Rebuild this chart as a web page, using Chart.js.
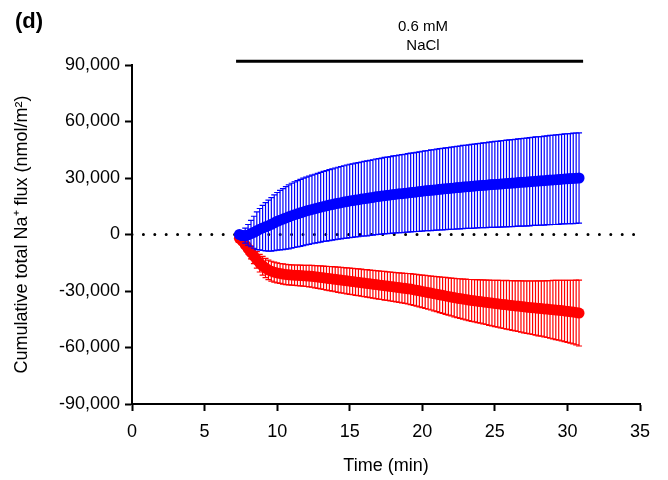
<!DOCTYPE html>
<html lang="en">
<head>
  <meta charset="UTF-8">
  <title>Cumulative total Na+ flux</title>
  <script src="https://cdn.jsdelivr.net/npm/chart.js"></script>
  <style>
    html, body { margin: 0; padding: 0; background: #fff; }
  </style>
</head>
<body>
  <canvas id="fluxChart" width="668" height="480"></canvas>

  <script>
    // sampling times (min), one every 0.2 min
    const times = [
      7.4, 7.6, 7.8, 8.0, 8.2, 8.4, 8.6, 8.8, 9.0, 9.2,
      9.4, 9.6, 9.8, 10.0, 10.2, 10.4, 10.6, 10.8, 11.0, 11.2,
      11.4, 11.6, 11.8, 12.0, 12.2, 12.4, 12.6, 12.8, 13.0, 13.2,
      13.4, 13.6, 13.8, 14.0, 14.2, 14.4, 14.6, 14.8, 15.0, 15.2,
      15.4, 15.6, 15.8, 16.0, 16.2, 16.4, 16.6, 16.8, 17.0, 17.2,
      17.4, 17.6, 17.8, 18.0, 18.2, 18.4, 18.6, 18.8, 19.0, 19.2,
      19.4, 19.6, 19.8, 20.0, 20.2, 20.4, 20.6, 20.8, 21.0, 21.2,
      21.4, 21.6, 21.8, 22.0, 22.2, 22.4, 22.6, 22.8, 23.0, 23.2,
      23.4, 23.6, 23.8, 24.0, 24.2, 24.4, 24.6, 24.8, 25.0, 25.2,
      25.4, 25.6, 25.8, 26.0, 26.2, 26.4, 26.6, 26.8, 27.0, 27.2,
      27.4, 27.6, 27.8, 28.0, 28.2, 28.4, 28.6, 28.8, 29.0, 29.2,
      29.4, 29.6, 29.8, 30.0, 30.2, 30.4, 30.6, 30.8
    ];

    // blue group: mean and SEM (nmol/m2)
    const blueMean = [
      0, -500, -600, -200, 500, 1200, 2000, 2800, 3500, 4100,
      4700, 5400, 6200, 7000, 7600, 8200, 8800, 9400, 10000, 10500,
      11000, 11500, 12000, 12500, 12900, 13300, 13700, 14100, 14500, 14900,
      15200, 15600, 15900, 16300, 16600, 16900, 17200, 17500, 17800, 18000,
      18300, 18500, 18800, 19000, 19200, 19500, 19700, 20000, 20200, 20400,
      20600, 20800, 21000, 21200, 21400, 21600, 21700, 21900, 22100, 22300,
      22400, 22600, 22800, 23000, 23200, 23300, 23500, 23600, 23800, 24000,
      24100, 24300, 24400, 24600, 24700, 24900, 25000, 25200, 25300, 25400,
      25600, 25700, 25900, 26000, 26100, 26200, 26400, 26500, 26600, 26700,
      26800, 27000, 27100, 27200, 27300, 27400, 27600, 27700, 27800, 27900,
      28000, 28200, 28300, 28400, 28500, 28600, 28800, 28900, 29000, 29100,
      29200, 29400, 29500, 29600, 29700, 29800, 29900, 30000
    ];
    const blueErr = [
      1000, 2500, 4000, 5500, 7000, 8500, 10000, 11000, 12000, 12800,
      13500, 14200, 14800, 15300, 15800, 16200, 16600, 17000, 17200, 17400,
      17600, 17800, 17900, 18000, 18100, 18200, 18300, 18400, 18500, 18600,
      18700, 18800, 18900, 19000, 19100, 19200, 19300, 19400, 19500, 19500,
      19600, 19700, 19700, 19800, 19900, 19900, 20000, 20100, 20100, 20200,
      20300, 20300, 20400, 20500, 20500, 20600, 20700, 20700, 20800, 20900,
      20900, 21000, 21100, 21200, 21200, 21300, 21400, 21400, 21500, 21600,
      21600, 21700, 21700, 21800, 21900, 21900, 22000, 22100, 22100, 22200,
      22300, 22300, 22400, 22400, 22500, 22600, 22600, 22700, 22800, 22800,
      22900, 22900, 23000, 23000, 23100, 23100, 23200, 23200, 23300, 23300,
      23400, 23400, 23500, 23500, 23500, 23600, 23600, 23700, 23700, 23800,
      23800, 23800, 23900, 23900, 23900, 24000, 24000, 24000
    ];

    // red group: mean and SEM (nmol/m2)
    const redMean = [
      -2000, -3500, -5500, -7500, -9500, -11500, -13500, -15200, -16600, -17800,
      -18800, -19500, -20000, -20400, -20700, -21000, -21200, -21400, -21500, -21600,
      -21700, -21800, -21900, -22000, -22100, -22200, -22400, -22600, -22800, -23000,
      -23200, -23400, -23600, -23800, -24000, -24200, -24400, -24600, -24800, -25000,
      -25200, -25400, -25600, -25800, -26000, -26200, -26400, -26600, -26800, -27000,
      -27200, -27400, -27600, -27800, -28000, -28200, -28400, -28600, -28800, -29000,
      -29300, -29600, -29900, -30200, -30500, -30800, -31100, -31400, -31700, -32000,
      -32300, -32600, -32900, -33200, -33500, -33800, -34000, -34300, -34500, -34800,
      -35000, -35200, -35400, -35600, -35800, -36000, -36200, -36400, -36600, -36800,
      -37000, -37200, -37300, -37500, -37700, -37900, -38000, -38200, -38400, -38600,
      -38700, -38900, -39000, -39200, -39300, -39500, -39600, -39800, -39900, -40100,
      -40200, -40400, -40600, -40800, -41000, -41200, -41400, -41700
    ];
    const redErr = [
      1000, 1500, 2000, 2800, 3400, 4000, 4400, 4700, 5000, 5100,
      5200, 5300, 5300, 5300, 5300, 5400, 5400, 5400, 5400, 5400,
      5500, 5500, 5500, 5600, 5700, 5800, 5900, 6000, 6100, 6200,
      6300, 6400, 6500, 6600, 6700, 6800, 6800, 6900, 7000, 7000,
      7100, 7100, 7200, 7200, 7300, 7300, 7400, 7400, 7500, 7500,
      7600, 7600, 7700, 7700, 7800, 7800, 7900, 8000, 8100, 8200,
      8300, 8400, 8500, 8600, 8800, 8900, 9000, 9200, 9300, 9500,
      9600, 9800, 9900, 10000, 10200, 10300, 10500, 10600, 10800, 10900,
      11100, 11200, 11400, 11500, 11700, 11800, 12000, 12100, 12300, 12400,
      12600, 12700, 12900, 13000, 13200, 13300, 13500, 13600, 13800, 13900,
      14100, 14200, 14400, 14600, 14700, 14900, 15100, 15300, 15500, 15700,
      15900, 16100, 16300, 16500, 16700, 16900, 17200, 17500
    ];

    const xTicks = [0, 5, 10, 15, 20, 25, 30, 35];
    const yTicks = [-90000, -60000, -30000, 0, 30000, 60000, 90000];

    // NaCl application period
    const naclStart = 7.17;
    const naclEnd = 31.08;
    const naclBarY = 92000;
    const naclLabel = ["0.6 mM", "NaCl"];

    const FONT = "'Liberation Sans', Arial, sans-serif";

    const toPoints = (means) => means.map((v, i) => ({ x: times[i], y: v }));

    // draws the SEM bars of a dataset just before its points
    const errorBars = {
      id: 'errorBars',
      beforeDatasetDraw(chart, args) {
        const ds = chart.data.datasets[args.index];
        if (!ds.errors) return;
        const { ctx, scales: { x, y } } = chart;
        ctx.save();
        ctx.strokeStyle = ds.backgroundColor;
        ctx.lineWidth = 1.2;
        ds.data.forEach((p, i) => {
          const px = x.getPixelForValue(p.x);
          const top = y.getPixelForValue(p.y + ds.errors[i]);
          const bot = y.getPixelForValue(p.y - ds.errors[i]);
          ctx.beginPath();
          ctx.moveTo(px, top); ctx.lineTo(px, bot);
          ctx.moveTo(px - 3, top); ctx.lineTo(px + 3, top);
          ctx.moveTo(px - 3, bot); ctx.lineTo(px + 3, bot);
          ctx.stroke();
        });
        ctx.restore();
      }
    };

    // panel letter, NaCl bar and its label
    const annotations = {
      id: 'annotations',
      afterDraw(chart) {
        const { ctx, scales: { x, y } } = chart;
        ctx.save();
        ctx.fillStyle = '#000';
        ctx.font = "bold 22px " + FONT;
        ctx.textAlign = 'left';
        ctx.textBaseline = 'middle';
        ctx.fillText("(d)", 15, 22);

        const x0 = x.getPixelForValue(naclStart);
        const x1 = x.getPixelForValue(naclEnd);
        const yb = y.getPixelForValue(naclBarY);
        ctx.strokeStyle = '#000';
        ctx.lineWidth = 3;
        ctx.beginPath();
        ctx.moveTo(x0, yb); ctx.lineTo(x1, yb);
        ctx.stroke();

        ctx.font = "15px " + FONT;
        ctx.textAlign = 'center';
        const xc = x.getPixelForValue(20.05);
        ctx.fillText(naclLabel[0], xc, 27);
        ctx.fillText(naclLabel[1], xc, 46);
        ctx.restore();
      }
    };

    const ctx = document.getElementById("fluxChart").getContext("2d");
    const fluxChart = new Chart(ctx, {
      type: 'scatter',
      data: {
        datasets: [
          {
            label: "blue", data: toPoints(blueMean), errors: blueErr,
            backgroundColor: "#0000ff", borderWidth: 0, pointRadius: 5.5, order: 1
          },
          {
            label: "red", data: toPoints(redMean), errors: redErr,
            backgroundColor: "#ff0000", borderWidth: 0, pointRadius: 5.5, order: 2
          },
          {
            type: 'line', label: "zero", data: [{ x: 0, y: 0 }, { x: 35, y: 0 }],
            borderColor: "#000", borderWidth: 3, borderDash: [0, 11.4],
            borderCapStyle: 'round', pointRadius: 0, order: 3
          }
        ]
      },
      options: {
        responsive: false,
        animation: false,
        devicePixelRatio: 1,
        layout: { padding: { top: 65, right: 28, left: 0, bottom: 0 } },
        plugins: { legend: { display: false }, tooltip: { enabled: false } },
        scales: {
          x: {
            type: 'linear', min: 0, max: 35,
            afterFit: (s) => { s.height = 76; },
            afterBuildTicks: (s) => { s.ticks = xTicks.map(v => ({ value: v })); },
            border: { display: true, color: '#000', width: 2 },
            grid: { drawOnChartArea: false, drawTicks: true, tickLength: 7, tickColor: '#000', tickWidth: 2 },
            ticks: { color: '#000', font: { family: FONT, size: 18 }, padding: 10, maxRotation: 0, autoSkip: false },
            title: { display: true, text: "Time (min)", color: '#000', font: { family: FONT, size: 18 }, padding: { top: 2, bottom: 3 } }
          },
          y: {
            min: -90000, max: 90000,
            afterFit: (s) => { s.width = 132; },
            afterBuildTicks: (s) => { s.ticks = yTicks.map(v => ({ value: v })); },
            border: { display: true, color: '#000', width: 2 },
            grid: { drawOnChartArea: false, drawTicks: true, tickLength: 7, tickColor: '#000', tickWidth: 2 },
            ticks: {
              color: '#000', font: { family: FONT, size: 18 }, padding: 5, autoSkip: false,
              callback: (v) => v.toLocaleString('en-US')
            },
            title: {
              display: true, text: "Cumulative total Na\u207A flux (nmol/m\u00B2)",
              color: '#000', font: { family: FONT, size: 18 }, padding: { top: 11, bottom: 0 }
            }
          }
        }
      },
      plugins: [errorBars, annotations]
    });
  </script>
</body>
</html>
